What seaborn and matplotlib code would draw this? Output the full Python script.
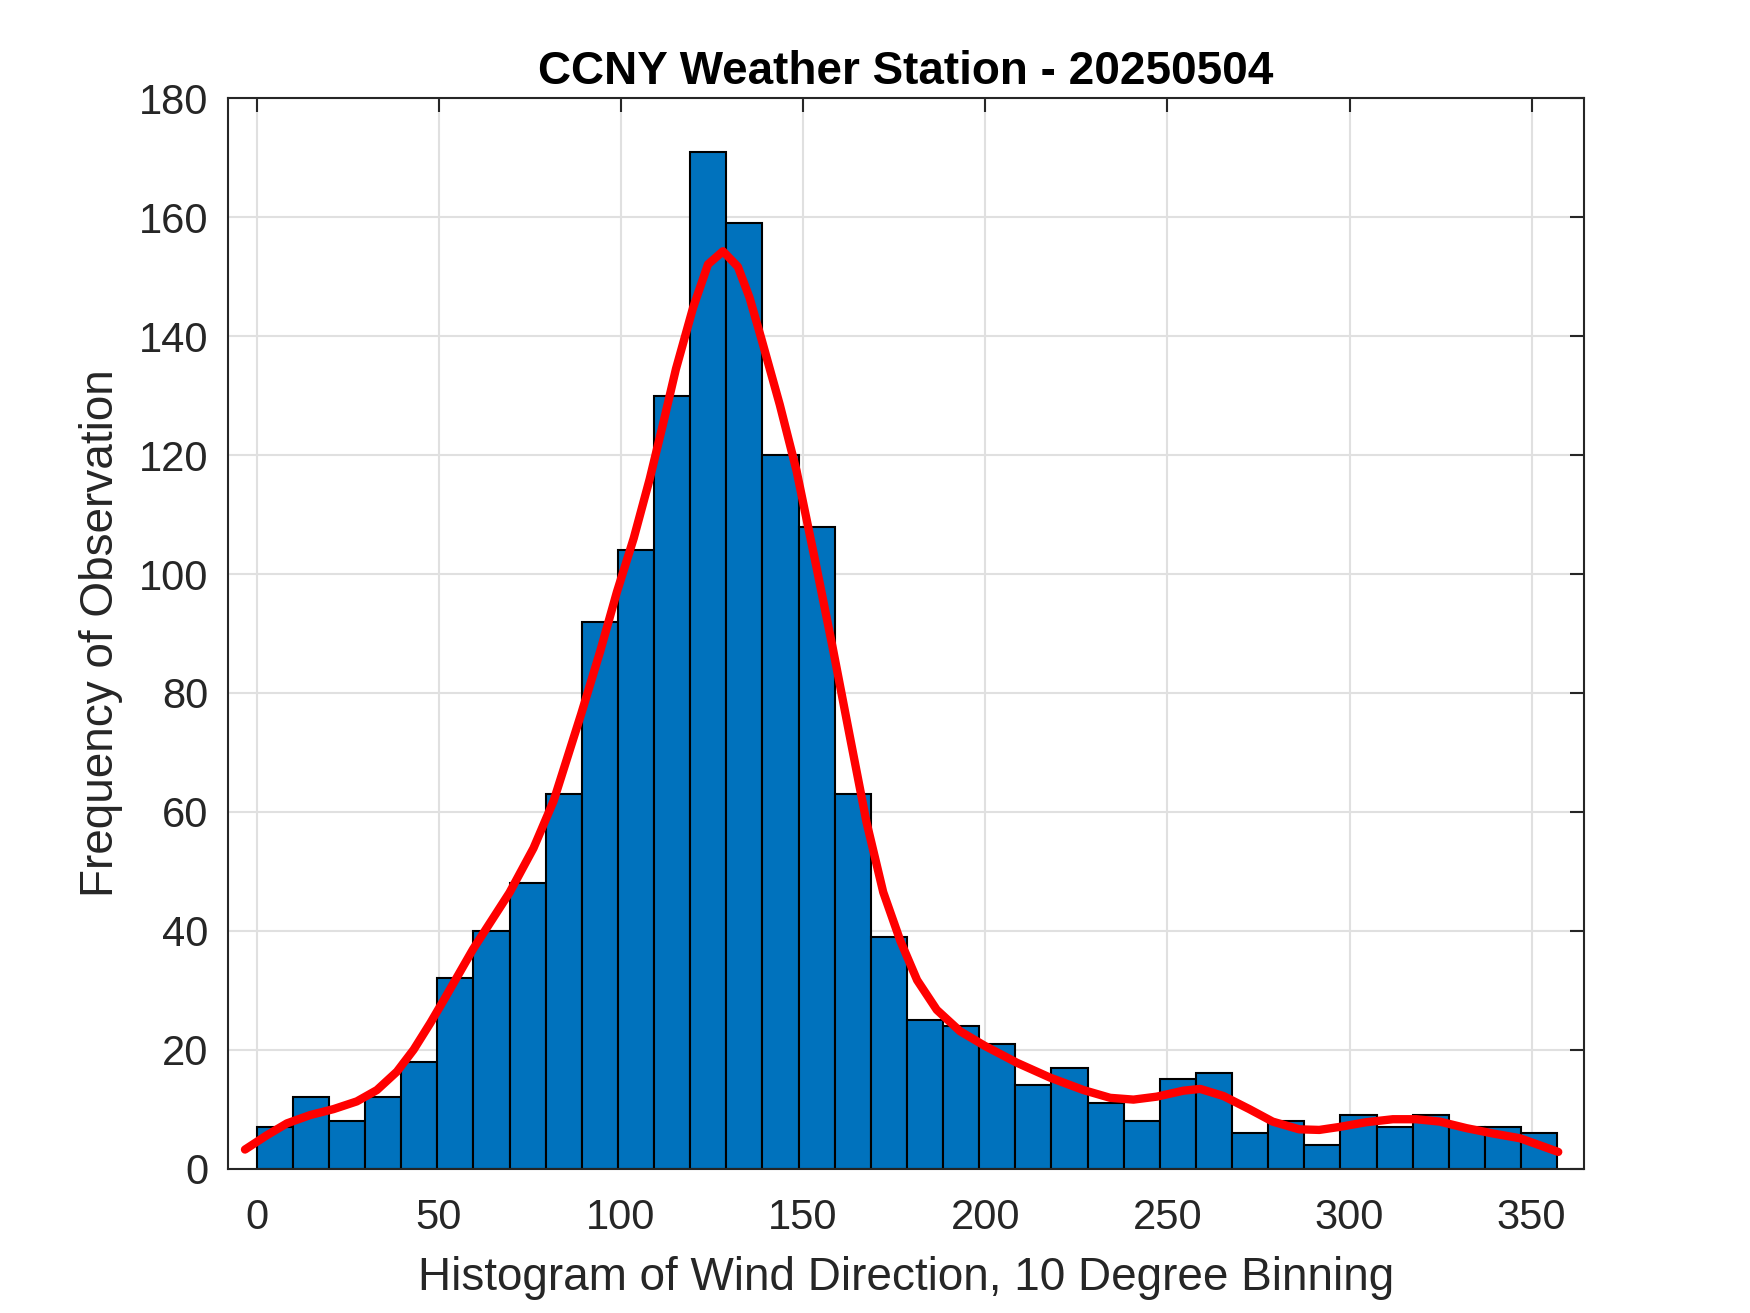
import numpy as np
import pandas as pd
import matplotlib
matplotlib.use("Agg")
import matplotlib.pyplot as plt
import seaborn as sns

# Histogram counts per bin (36 bins over 0..357 deg)
bin_lo, bin_hi = 0.0, 357.0
counts = [7, 12, 8, 12, 18, 32, 40, 48, 63, 92, 104, 130,
          171, 159, 120, 108, 63, 39, 25, 24, 21, 14, 17, 11,
          8, 15, 16, 6, 8, 4, 9, 7, 9, 7, 7, 6]

# Smoothed curve
curve_x = [-3.2, 2.8, 8.3, 14.7, 21.1, 27.5, 33.0, 38.5, 43.1, 47.7,
           52.0, 59.4, 69.4, 76.0, 81.5, 89.1, 94.3, 98.9, 103.5, 107.9,
           111.5, 115.1, 119.8, 123.9, 128.0, 132.1, 135.3, 138.5, 143.6, 148.2,
           153.7, 158.2, 162.8, 167.4, 172.0, 176.7, 181.3, 186.7, 193.1, 200.0,
           208.7, 217.8, 227.0, 234.3, 240.7, 247.1, 254.4, 259.0, 265.4, 272.5,
           278.9, 286.2, 291.7, 297.2, 304.6, 311.9, 318.3, 324.8, 332.1, 339.4,
           346.8, 352.3, 357.3]
curve_y = [3.2, 5.6, 7.6, 9.0, 10.0, 11.3, 13.2, 16.3, 20.0, 24.5,
           29.0, 36.9, 46.4, 53.9, 61.8, 76.5, 87.0, 97.0, 106.0, 116.0,
           125.1, 134.5, 144.8, 152.1, 154.3, 151.7, 146.5, 139.7, 128.5, 117.4,
           101.1, 87.4, 72.8, 58.3, 46.5, 38.3, 31.7, 26.7, 23.1, 20.6,
           17.8, 15.3, 13.2, 11.9, 11.6, 12.1, 13.1, 13.4, 12.2, 10.0,
           7.9, 6.6, 6.5, 7.0, 7.8, 8.3, 8.3, 7.9, 6.8, 5.9,
           5.1, 3.9, 2.8]

xticks = [0, 50, 100, 150, 200, 250, 300, 350]
yticks = [0, 20, 40, 60, 80, 100, 120, 140, 160, 180]

title = "CCNY Weather Station - 20250504"
xlabel = "Histogram of Wind Direction, 10 Degree Binning"
ylabel = "Frequency of Observation"

sns.set_style("white")
plt.rcParams["font.family"] = ["Liberation Sans", "DejaVu Sans"]

edges = np.linspace(bin_lo, bin_hi, len(counts) + 1)
hist_df = pd.DataFrame({
    "direction": (edges[:-1] + edges[1:]) / 2,
    "count": counts,
})

fig = plt.figure(figsize=(1750 / 300, 1313 / 300), dpi=300)
ax = fig.add_axes([0.13, 0.11, 0.775, 0.815])

sns.histplot(data=hist_df, x="direction", weights="count", bins=list(edges),
             color="#0072BD", alpha=1, edgecolor="black", linewidth=0.5, ax=ax)
sns.lineplot(x=curve_x, y=curve_y, color="red", linewidth=2, ax=ax)

ax.set_xlim(-8, 364.3)
ax.set_ylim(0, 180)
ax.set_xticks(xticks)
ax.set_yticks(yticks)

ax.set_axisbelow(True)
ax.grid(True, color="#e0e0e0", linewidth=0.5)

for s in ax.spines.values():
    s.set_visible(True)
    s.set_color("#262626")
    s.set_linewidth(0.5)

ax.tick_params(direction="in", top=True, right=True, length=3.3, width=0.5,
               color="#262626", labelcolor="#262626", labelsize=10)
ax.tick_params(axis="x", pad=7)
ax.tick_params(axis="y", pad=4.5)

ax.set_title(title, fontsize=11, fontweight="bold", color="black", pad=3.5)
ax.set_xlabel(xlabel, fontsize=11, color="#262626", labelpad=4.5)
ax.set_ylabel(ylabel, fontsize=11, color="#262626", labelpad=4)

fig.savefig("out.png", dpi=300)
